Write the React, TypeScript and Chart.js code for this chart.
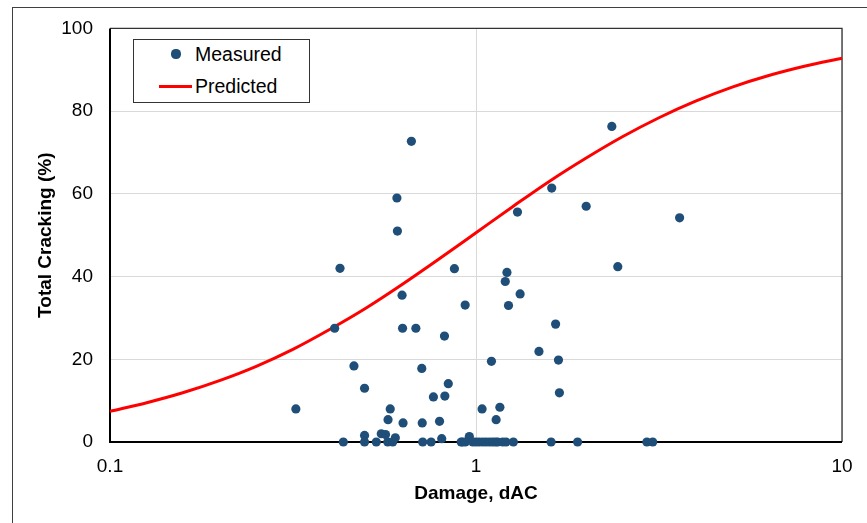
import React, { useEffect, useRef } from "react";
import { Chart, registerables } from "chart.js";

Chart.register(...registerables);

// ---- Data ----
const seriesNames = ["Measured", "Predicted"];
const xAxisTitle = "Damage, dAC";
const yAxisTitle = "Total Cracking (%)";
const xTickValues = [0.1, 1, 10];
const yTickValues = [0, 20, 40, 60, 80, 100];

const measuredDamage = [
  0.322, 0.411, 0.425, 0.464, 0.496, 0.496, 0.551, 0.566, 0.575, 0.583,
  0.602, 0.608, 0.61, 0.628, 0.63, 0.632, 0.666, 0.685, 0.711, 0.713,
  0.765, 0.795, 0.806, 0.82, 0.822, 0.84, 0.873, 0.934, 0.959, 1.039,
  1.102, 1.135, 1.162, 1.202, 1.215, 1.227, 1.298, 1.32, 1.486, 1.61,
  1.65, 1.68, 1.69, 2.0, 2.35, 2.44, 3.6,
  0.434, 0.496, 0.534, 0.574, 0.592, 0.715, 0.754, 0.911, 0.918, 0.935,
  0.98, 1.0, 1.02, 1.043, 1.065, 1.088, 1.11, 1.13, 1.146, 1.183,
  1.208, 1.265, 1.604, 1.895, 2.93, 3.04,
];
const measuredCracking = [
  8.0, 27.5, 42.0, 18.4, 13.0, 1.6, 2.0, 1.8, 5.4, 8.0,
  1.0, 59.0, 51.0, 35.5, 27.5, 4.6, 72.7, 27.5, 17.8, 4.6,
  10.9, 5.0, 0.8, 25.6, 11.1, 14.1, 41.9, 33.1, 1.3, 8.0,
  19.5, 5.4, 8.4, 38.8, 41.0, 33.0, 55.6, 35.8, 21.9, 61.4,
  28.5, 19.8, 11.9, 57.0, 76.3, 42.4, 54.2,
  0, 0, 0, 0, 0, 0, 0, 0, 0, 0,
  0, 0, 0, 0, 0, 0, 0, 0, 0, 0,
  0, 0, 0, 0, 0, 0,
];

const predictedDamage = [
  0.1, 0.126, 0.158, 0.2, 0.251, 0.316, 0.398, 0.501, 0.631, 0.794,
  1.0, 1.259, 1.585, 1.995, 2.512, 3.162, 3.981, 5.012, 6.31, 7.943, 10,
];
const predictedCracking = [
  7.4, 9.5, 11.9, 14.9, 18.3, 22.4, 27.2, 32.4, 38.2, 44.3,
  50.6, 56.9, 63.0, 68.6, 73.8, 78.4, 82.4, 85.8, 88.6, 90.9, 92.8,
];

const FONT = "'Liberation Sans', Arial, Helvetica, sans-serif";

const framePlugin = {
  id: "plotFrame",
  beforeDatasetsDraw(chart: any) {
    const { ctx, chartArea } = chart;
    const { left, right, top, bottom } = chartArea;
    ctx.save();
    ctx.strokeStyle = "#333333";
    ctx.lineWidth = 1.3;
    ctx.beginPath();
    ctx.moveTo(left, top);
    ctx.lineTo(right, top);
    ctx.lineTo(right, bottom);
    ctx.stroke();
    ctx.strokeStyle = "#000000";
    ctx.lineWidth = 2;
    ctx.beginPath();
    ctx.moveTo(left, top);
    ctx.lineTo(left, bottom);
    ctx.lineTo(right, bottom);
    ctx.stroke();
    ctx.restore();
  },
};

export default function App() {
  const canvasRef = useRef<HTMLCanvasElement | null>(null);

  useEffect(() => {
    if (!canvasRef.current) return;
    const measured = measuredDamage.map((x, i) => ({ x, y: measuredCracking[i] }));
    const predicted = predictedDamage.map((x, i) => ({ x, y: predictedCracking[i] }));

    const chart = new Chart(canvasRef.current, {
      type: "scatter",
      data: {
        datasets: [
          {
            label: seriesNames[0],
            data: measured,
            showLine: false,
            pointRadius: 4.6,
            pointHoverRadius: 4.6,
            pointBackgroundColor: "#1f4e79",
            pointBorderWidth: 0,
            backgroundColor: "#1f4e79",
            borderColor: "#1f4e79",
            clip: false as any,
          },
          {
            label: seriesNames[1],
            data: predicted,
            showLine: true,
            pointRadius: 0,
            borderColor: "#ff0000",
            borderWidth: 3,
            cubicInterpolationMode: "monotone",
            fill: false,
            clip: false as any,
          },
        ],
      },
      options: {
        animation: false,
        responsive: false,
        devicePixelRatio: 1,
        layout: { padding: { left: 0, top: 26, right: 25, bottom: 0 } },
        plugins: {
          legend: { display: false },
          tooltip: { enabled: false },
          title: { display: false },
        },
        scales: {
          x: {
            type: "logarithmic",
            min: 0.1,
            max: 10,
            afterBuildTicks: (scale: any) => {
              scale.ticks = xTickValues.map((v) => ({ value: v }));
            },
            afterFit: (scale: any) => {
              scale.height = 81;
            },
            grid: { color: "#d9d9d9", lineWidth: 1, drawTicks: false },
            border: { display: false },
            ticks: {
              autoSkip: false,
              maxRotation: 0,
              padding: 13,
              color: "#000000",
              font: { family: FONT, size: 19 },
              callback: (v: any) => String(v),
            },
            title: {
              display: true,
              text: xAxisTitle,
              color: "#000000",
              font: { family: FONT, size: 19, weight: "bold" },
              padding: { top: 0, bottom: 18 },
            },
          },
          y: {
            type: "linear",
            min: 0,
            max: 100,
            afterBuildTicks: (scale: any) => {
              scale.ticks = yTickValues.map((v) => ({ value: v }));
            },
            afterFit: (scale: any) => {
              scale.width = 110;
            },
            grid: { color: "#d9d9d9", lineWidth: 1, drawTicks: false },
            border: { display: false },
            ticks: {
              padding: 17,
              color: "#000000",
              font: { family: FONT, size: 19 },
            },
            title: {
              display: true,
              text: yAxisTitle,
              color: "#000000",
              font: { family: FONT, size: 19, weight: "bold" },
              padding: { top: 34, bottom: 0 },
            },
          },
        },
      },
      plugins: [framePlugin],
    } as any);

    return () => {
      chart.destroy();
    };
  }, []);

  return (
    <div
      style={{
        position: "fixed",
        left: 0,
        top: 0,
        width: 867,
        height: 523,
        background: "#ffffff",
        overflow: "hidden",
      }}
    >
      <div
        style={{
          position: "absolute",
          left: 12,
          top: 7,
          width: 900,
          height: 600,
          borderLeft: "1px solid #404040",
          borderTop: "1px solid #404040",
        }}
      />
      <canvas
        ref={canvasRef}
        width={867}
        height={523}
        style={{ position: "absolute", left: 0, top: 0, width: 867, height: 523 }}
      />
      <div
        style={{
          position: "absolute",
          left: 133,
          top: 39,
          width: 175,
          height: 62,
          border: "1px solid #333333",
          background: "#ffffff",
          fontFamily: FONT,
          fontSize: 19.5,
          color: "#000000",
        }}
      >
        <div
          style={{
            position: "absolute",
            left: 176 - 133 - 1 - 4.6,
            top: 54 - 39 - 1 - 4.6,
            width: 9.2,
            height: 9.2,
            borderRadius: "50%",
            background: "#1f4e79",
          }}
        />
        <div
          style={{
            position: "absolute",
            left: 195 - 134,
            top: 44 - 40,
            lineHeight: "20px",
            whiteSpace: "nowrap",
          }}
        >
          {seriesNames[0]}
        </div>
        <div
          style={{
            position: "absolute",
            left: 159 - 134,
            top: 86 - 40 - 1.5,
            width: 33,
            height: 3,
            background: "#ff0000",
          }}
        />
        <div
          style={{
            position: "absolute",
            left: 195 - 134,
            top: 76 - 40,
            lineHeight: "20px",
            whiteSpace: "nowrap",
          }}
        >
          {seriesNames[1]}
        </div>
      </div>
    </div>
  );
}
